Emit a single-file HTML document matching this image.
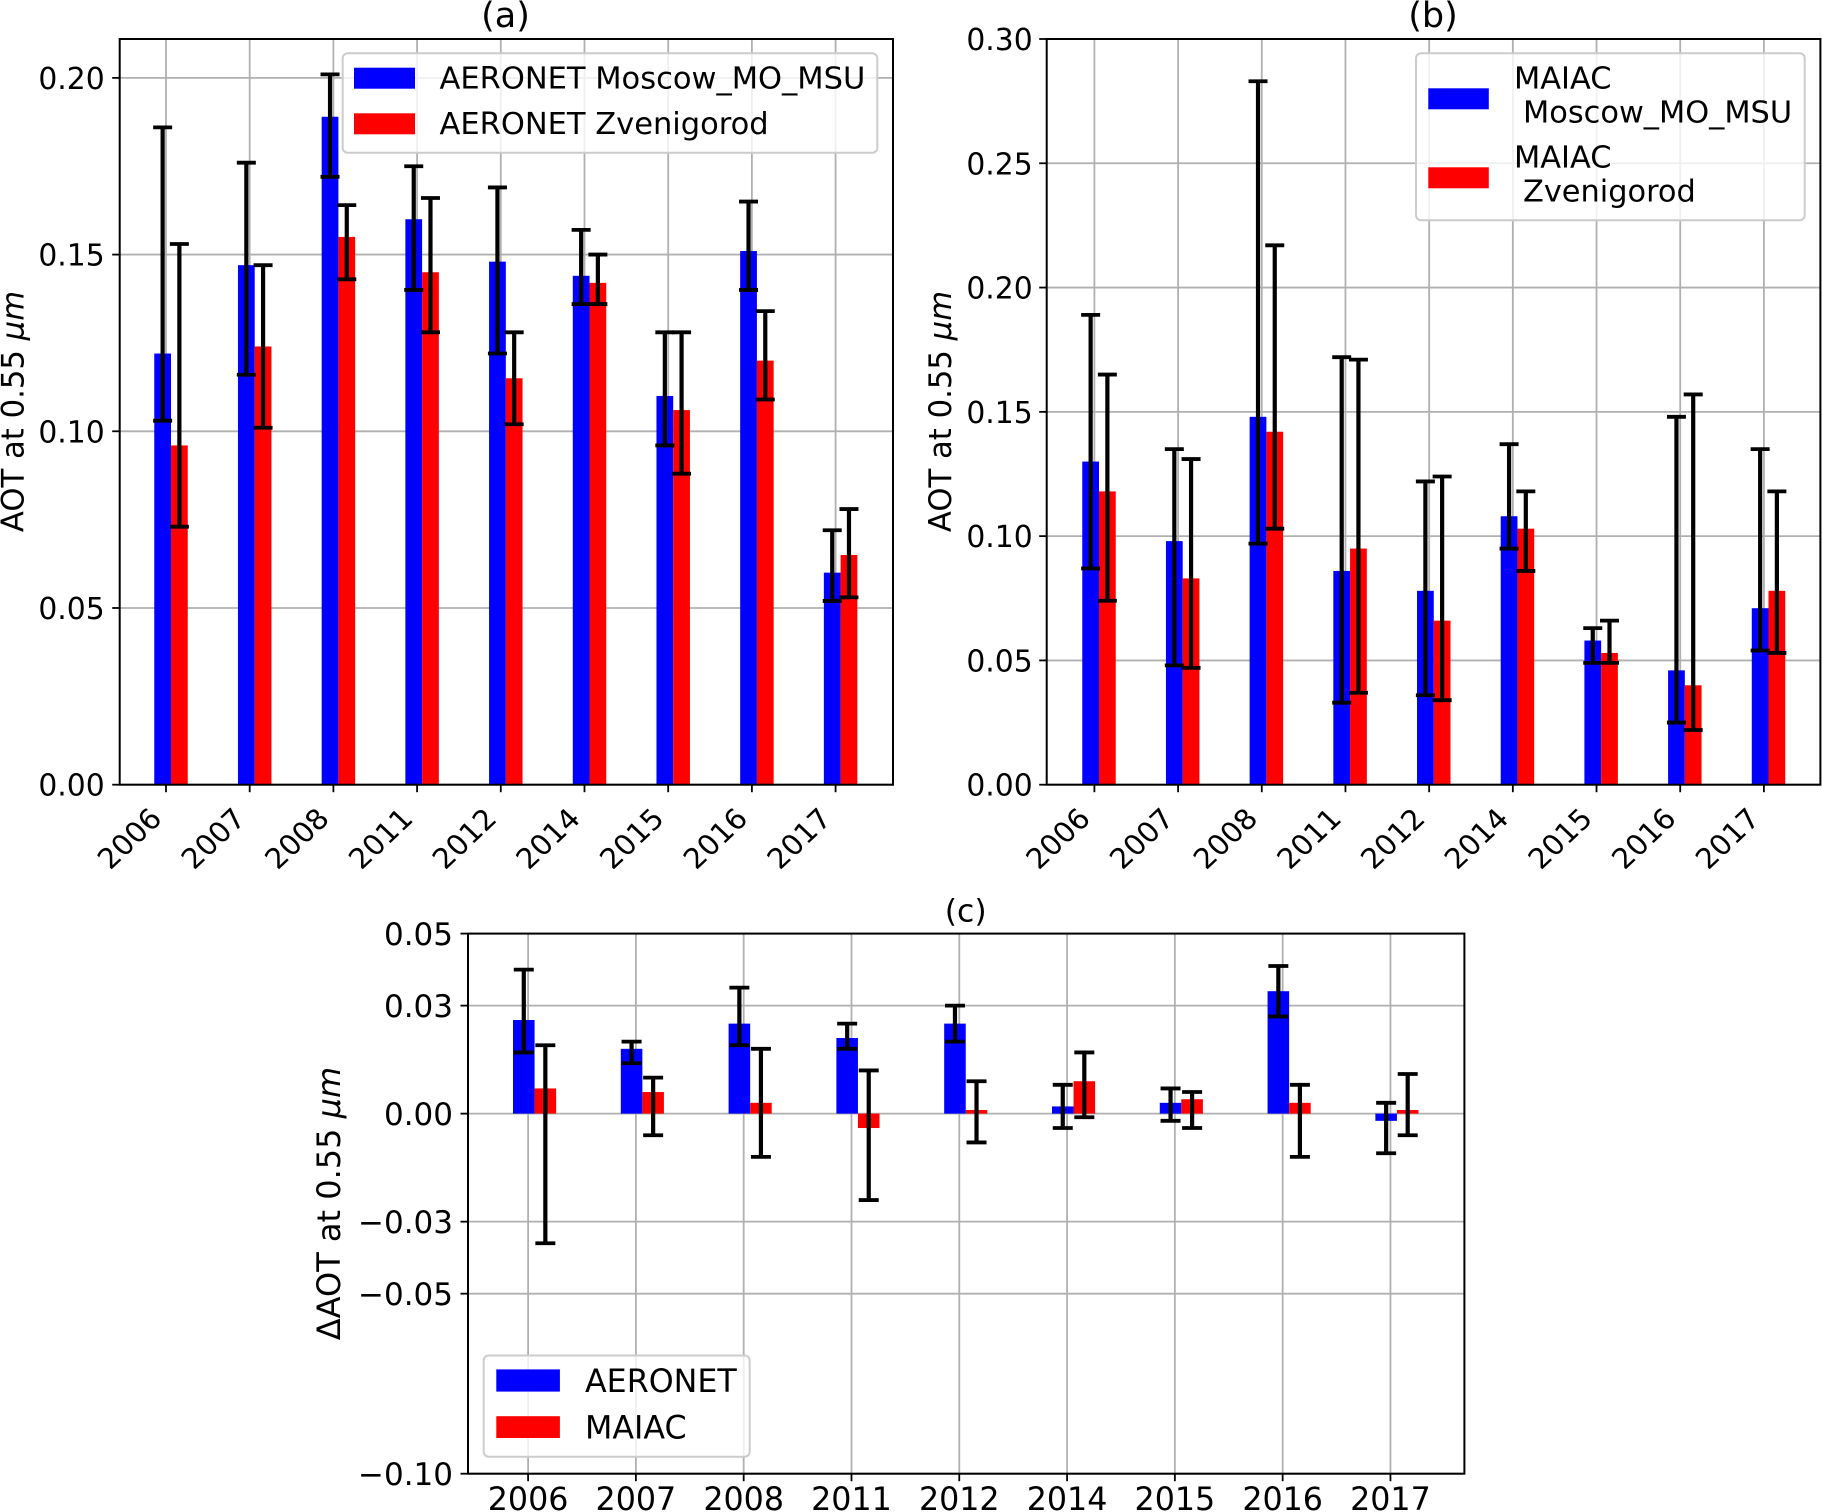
<!DOCTYPE html>
<html lang="en">
<head>
<meta charset="utf-8">
<title>AOT at 0.55 µm comparison</title>
<style>
html,body{margin:0;padding:0;background:#fff;}
svg{display:block;font-family:"DejaVu Sans","Liberation Sans",sans-serif;fill:#000;}
</style>
</head>
<body>
<svg id="figure" xmlns="http://www.w3.org/2000/svg" width="1822" height="1512" viewBox="0 0 1822 1512">
  <rect x="0" y="0" width="1822" height="1512" fill="#fff"/>

  <g id="panel-a">
    <g id="plot-a"></g>
    <text x="505.5" y="27" font-size="35" text-anchor="middle">(a)</text>
    <text transform="translate(23.5 411.5) rotate(-90)" font-size="30.7" text-anchor="middle">AOT at 0.55 <tspan font-style="italic">μm</tspan></text>
    <g>
      <rect x="342.7" y="53.3" width="534.6" height="99.4" rx="5" fill="#fff" fill-opacity="0.8" stroke="#ccc" stroke-width="2"/>
      <rect x="354" y="67.7" width="61" height="21" fill="#00f"/>
      <text x="439.5" y="88.3" font-size="30.5">AERONET Moscow_MO_MSU</text>
      <rect x="354" y="113.3" width="61" height="21" fill="#f00"/>
      <text x="439.5" y="134" font-size="30.5">AERONET Zvenigorod</text>
    </g>
  </g>

  <g id="panel-b">
    <g id="plot-b"></g>
    <text x="1433" y="27" font-size="35" text-anchor="middle">(b)</text>
    <text transform="translate(951 411.5) rotate(-90)" font-size="30.7" text-anchor="middle">AOT at 0.55 <tspan font-style="italic">μm</tspan></text>
    <g>
      <rect x="1416" y="53.3" width="388.7" height="167" rx="5" fill="#fff" fill-opacity="0.8" stroke="#ccc" stroke-width="2"/>
      <rect x="1428.3" y="88.3" width="60.5" height="21" fill="#00f"/>
      <text x="1514" y="88.3" font-size="30.4">MAIAC</text>
      <text x="1523" y="122.7" font-size="30.4">Moscow_MO_MSU</text>
      <rect x="1428.3" y="167.3" width="60.5" height="21" fill="#f00"/>
      <text x="1514" y="167.7" font-size="30.4">MAIAC</text>
      <text x="1523" y="201.7" font-size="30.4">Zvenigorod</text>
    </g>
  </g>

  <g id="panel-c">
    <g id="plot-c"></g>
    <text x="965.7" y="921.5" font-size="31.5" text-anchor="middle">(c)</text>
    <text transform="translate(340 1203.5) rotate(-90)" font-size="32" text-anchor="middle">ΔAOT at 0.55 <tspan font-style="italic">μm</tspan></text>
    <g>
      <rect x="483.7" y="1355.5" width="266" height="101.2" rx="5" fill="#fff" fill-opacity="0.8" stroke="#ccc" stroke-width="2"/>
      <rect x="496.3" y="1369.4" width="63.6" height="22.2" fill="#00f"/>
      <text x="585" y="1392" font-size="31.7">AERONET</text>
      <rect x="496.3" y="1416.2" width="63.6" height="21.8" fill="#f00"/>
      <text x="585" y="1438.4" font-size="31.7">MAIAC</text>
    </g>
  </g>
</svg>

<script>
// ---- shared categories ----
const years = ['2006', '2007', '2008', '2011', '2012', '2014', '2015', '2016', '2017'];

// ---- panel (a): AERONET ----
const aYTicks = [0, 0.05, 0.10, 0.15, 0.20];
const aMoscow     = [0.122, 0.147, 0.189, 0.160, 0.148, 0.144, 0.110, 0.151, 0.060];
const aMoscowLow  = [0.103, 0.116, 0.172, 0.140, 0.122, 0.136, 0.096, 0.140, 0.052];
const aMoscowHigh = [0.186, 0.176, 0.201, 0.175, 0.169, 0.157, 0.128, 0.165, 0.072];
const aZven       = [0.096, 0.124, 0.155, 0.145, 0.115, 0.142, 0.106, 0.120, 0.065];
const aZvenLow    = [0.073, 0.101, 0.143, 0.128, 0.102, 0.136, 0.088, 0.109, 0.053];
const aZvenHigh   = [0.153, 0.147, 0.164, 0.166, 0.128, 0.150, 0.128, 0.134, 0.078];

// ---- panel (b): MAIAC ----
const bYTicks = [0, 0.05, 0.10, 0.15, 0.20, 0.25, 0.30];
const bMoscow     = [0.130, 0.098, 0.148, 0.086, 0.078, 0.108, 0.058, 0.046, 0.071];
const bMoscowLow  = [0.087, 0.048, 0.097, 0.033, 0.036, 0.095, 0.049, 0.025, 0.054];
const bMoscowHigh = [0.189, 0.135, 0.283, 0.172, 0.122, 0.137, 0.063, 0.148, 0.135];
const bZven       = [0.118, 0.083, 0.142, 0.095, 0.066, 0.103, 0.053, 0.040, 0.078];
const bZvenLow    = [0.074, 0.047, 0.103, 0.037, 0.034, 0.086, 0.049, 0.022, 0.053];
const bZvenHigh   = [0.165, 0.131, 0.217, 0.171, 0.124, 0.118, 0.066, 0.157, 0.118];

// ---- panel (c): differences ----
const cYTicks = [-0.10, -0.05, -0.03, 0, 0.03, 0.05];
const cAeronet     = [0.026, 0.018, 0.025, 0.021, 0.025, 0.002, 0.003, 0.034, -0.002];
const cAeronetLow  = [0.017, 0.014, 0.019, 0.018, 0.020, -0.004, -0.002, 0.027, -0.011];
const cAeronetHigh = [0.040, 0.020, 0.035, 0.025, 0.030, 0.008, 0.007, 0.041, 0.003];
const cMaiac        = [0.007, 0.006, 0.003, -0.004, 0.001, 0.009, 0.004, 0.003, 0.001];
const cMaiacLow     = [-0.036, -0.006, -0.012, -0.024, -0.008, -0.001, -0.004, -0.012, -0.006];
const cMaiacHigh    = [0.019, 0.010, 0.018, 0.012, 0.009, 0.017, 0.006, 0.008, 0.011];

const SVG_NS = 'http://www.w3.org/2000/svg';

function linearScale(d0, d1, r0, r1) {
  return function (v) { return r0 + (v - d0) * (r1 - r0) / (d1 - d0); };
}

function shape(parent, tag, attrs) {
  const el = document.createElementNS(SVG_NS, tag);
  Object.keys(attrs).forEach(function (k) { el.setAttribute(k, attrs[k]); });
  parent.appendChild(el);
  return el;
}

function formatTick(v) {
  return v.toFixed(2).replace('-', '\u2212');
}

function drawPanel(cfg) {
  const g = document.getElementById(cfg.target);
  const x = linearScale(cfg.xDomain[0], cfg.xDomain[1], cfg.box.left, cfg.box.right);
  const y = linearScale(cfg.yDomain[0], cfg.yDomain[1], cfg.box.bottom, cfg.box.top);
  const gridStyle = { stroke: '#b0b0b0', 'stroke-width': 1.8 };

  // grid lines
  years.forEach(function (year, i) {
    const el = shape(g, 'line', Object.assign({ x1: x(i), x2: x(i), y1: cfg.box.top, y2: cfg.box.bottom }, gridStyle));
    
    
  });
  cfg.yTicks.forEach(function (t) {
    const el = shape(g, 'line', Object.assign({ x1: cfg.box.left, x2: cfg.box.right, y1: y(t), y2: y(t) }, gridStyle));
    
    
  });

  // bars
  cfg.series.forEach(function (s) {
    s.values.forEach(function (v, i) {
      const x0 = x(i + s.offset - cfg.barWidth / 2);
      const x1 = x(i + s.offset + cfg.barWidth / 2);
      const yTop = Math.min(y(v), y(0));
      const yBot = Math.max(y(v), y(0));
      const el = shape(g, 'rect', { x: x0, y: yTop, width: x1 - x0, height: yBot - yTop, fill: s.color });
      
      
    });
  });

  // error bars
  const barStroke = { stroke: '#000' };
  cfg.series.forEach(function (s) {
    s.values.forEach(function (v, i) {
      const cx = x(i + s.offset);
      const stem = shape(g, 'line', Object.assign({ x1: cx, x2: cx, y1: y(s.low[i]), y2: y(s.high[i]), 'stroke-width': cfg.errWidth }, barStroke));
      
      
      const lowCap = shape(g, 'line', Object.assign({ x1: cx - cfg.capHalf, x2: cx + cfg.capHalf, y1: y(s.low[i]), y2: y(s.low[i]), 'stroke-width': cfg.capWidth }, barStroke));
      
      
      const highCap = shape(g, 'line', Object.assign({ x1: cx - cfg.capHalf, x2: cx + cfg.capHalf, y1: y(s.high[i]), y2: y(s.high[i]), 'stroke-width': cfg.capWidth }, barStroke));
      
      
    });
  });

  // axes frame
  const frame = shape(g, 'rect', { x: cfg.box.left, y: cfg.box.top, width: cfg.box.right - cfg.box.left, height: cfg.box.bottom - cfg.box.top, fill: 'none', stroke: '#000', 'stroke-width': 2 });
  
  

  // y ticks and labels
  cfg.yTicks.forEach(function (t) {
    const mark = shape(g, 'line', { x1: cfg.box.left - 7.5, x2: cfg.box.left, y1: y(t), y2: y(t), stroke: '#000', 'stroke-width': 1.8 });
    
    
    const label = shape(g, 'text', { x: cfg.box.left - cfg.labelGap, y: y(t) + cfg.tickFont * 0.37, 'text-anchor': 'end', 'font-size': cfg.tickFont });
    
    
    label.textContent = formatTick(t);
  });

  // x ticks and labels
  years.forEach(function (year, i) {
    const mark = shape(g, 'line', { x1: x(i), x2: x(i), y1: cfg.box.bottom, y2: cfg.box.bottom + 7.5, stroke: '#000', 'stroke-width': 1.8 });
    
    
    const attrs = cfg.rotateLabels
      ? { transform: 'translate(' + (x(i) - 2.5) + ' ' + (cfg.box.bottom + 35.5) + ') scale(0.95 0.9) rotate(-45)', 'text-anchor': 'end', 'font-size': 31.2 }
      : { x: x(i), y: cfg.box.bottom + 36.5, 'text-anchor': 'middle', 'font-size': cfg.xTickFont };
    const label = shape(g, 'text', attrs);
    
    
    label.textContent = year;
  });
}

drawPanel({
  target: 'plot-a',
  box: { left: 119.7, right: 893, top: 39, bottom: 784.7 },
  xDomain: [-0.553, 8.686],
  yDomain: [0, 0.211],
  yTicks: aYTicks,
  tickFont: 29.8,
  labelGap: 15,
  barWidth: 0.2, errWidth: 4.2, capWidth: 3.8, capHalf: 9.5, rotateLabels: true,
  series: [
    { name: 'moscow', color: '#00f', offset: -0.04, values: aMoscow, low: aMoscowLow, high: aMoscowHigh },
    { name: 'zvenigorod', color: '#f00', offset: 0.16, values: aZven, low: aZvenLow, high: aZvenHigh }
  ]
});

drawPanel({
  target: 'plot-b',
  box: { left: 1046.7, right: 1820.4, top: 39, bottom: 784.7 },
  xDomain: [-0.57, 8.675],
  yDomain: [0, 0.30],
  yTicks: bYTicks,
  tickFont: 29.8,
  labelGap: 14,
  barWidth: 0.2, errWidth: 4.2, capWidth: 3.8, capHalf: 9.5, rotateLabels: true,
  series: [
    { name: 'moscow', color: '#00f', offset: -0.045, values: bMoscow, low: bMoscowLow, high: bMoscowHigh },
    { name: 'zvenigorod', color: '#f00', offset: 0.155, values: bZven, low: bZvenLow, high: bZvenHigh }
  ]
});

drawPanel({
  target: 'plot-c',
  box: { left: 468, right: 1464.4, top: 933.6, bottom: 1473.7 },
  xDomain: [-0.5575, 8.686],
  yDomain: [-0.10, 0.05],
  yTicks: cYTicks,
  tickFont: 31,
  labelGap: 15,
  xTickFont: 31.7,
  barWidth: 0.2, errWidth: 4.2, capWidth: 3.8, capHalf: 10, rotateLabels: false,
  series: [
    { name: 'aeronet', color: '#00f', offset: -0.04, values: cAeronet, low: cAeronetLow, high: cAeronetHigh },
    { name: 'maiac', color: '#f00', offset: 0.16, values: cMaiac, low: cMaiacLow, high: cMaiacHigh }
  ]
});
</script>
</body>
</html>
